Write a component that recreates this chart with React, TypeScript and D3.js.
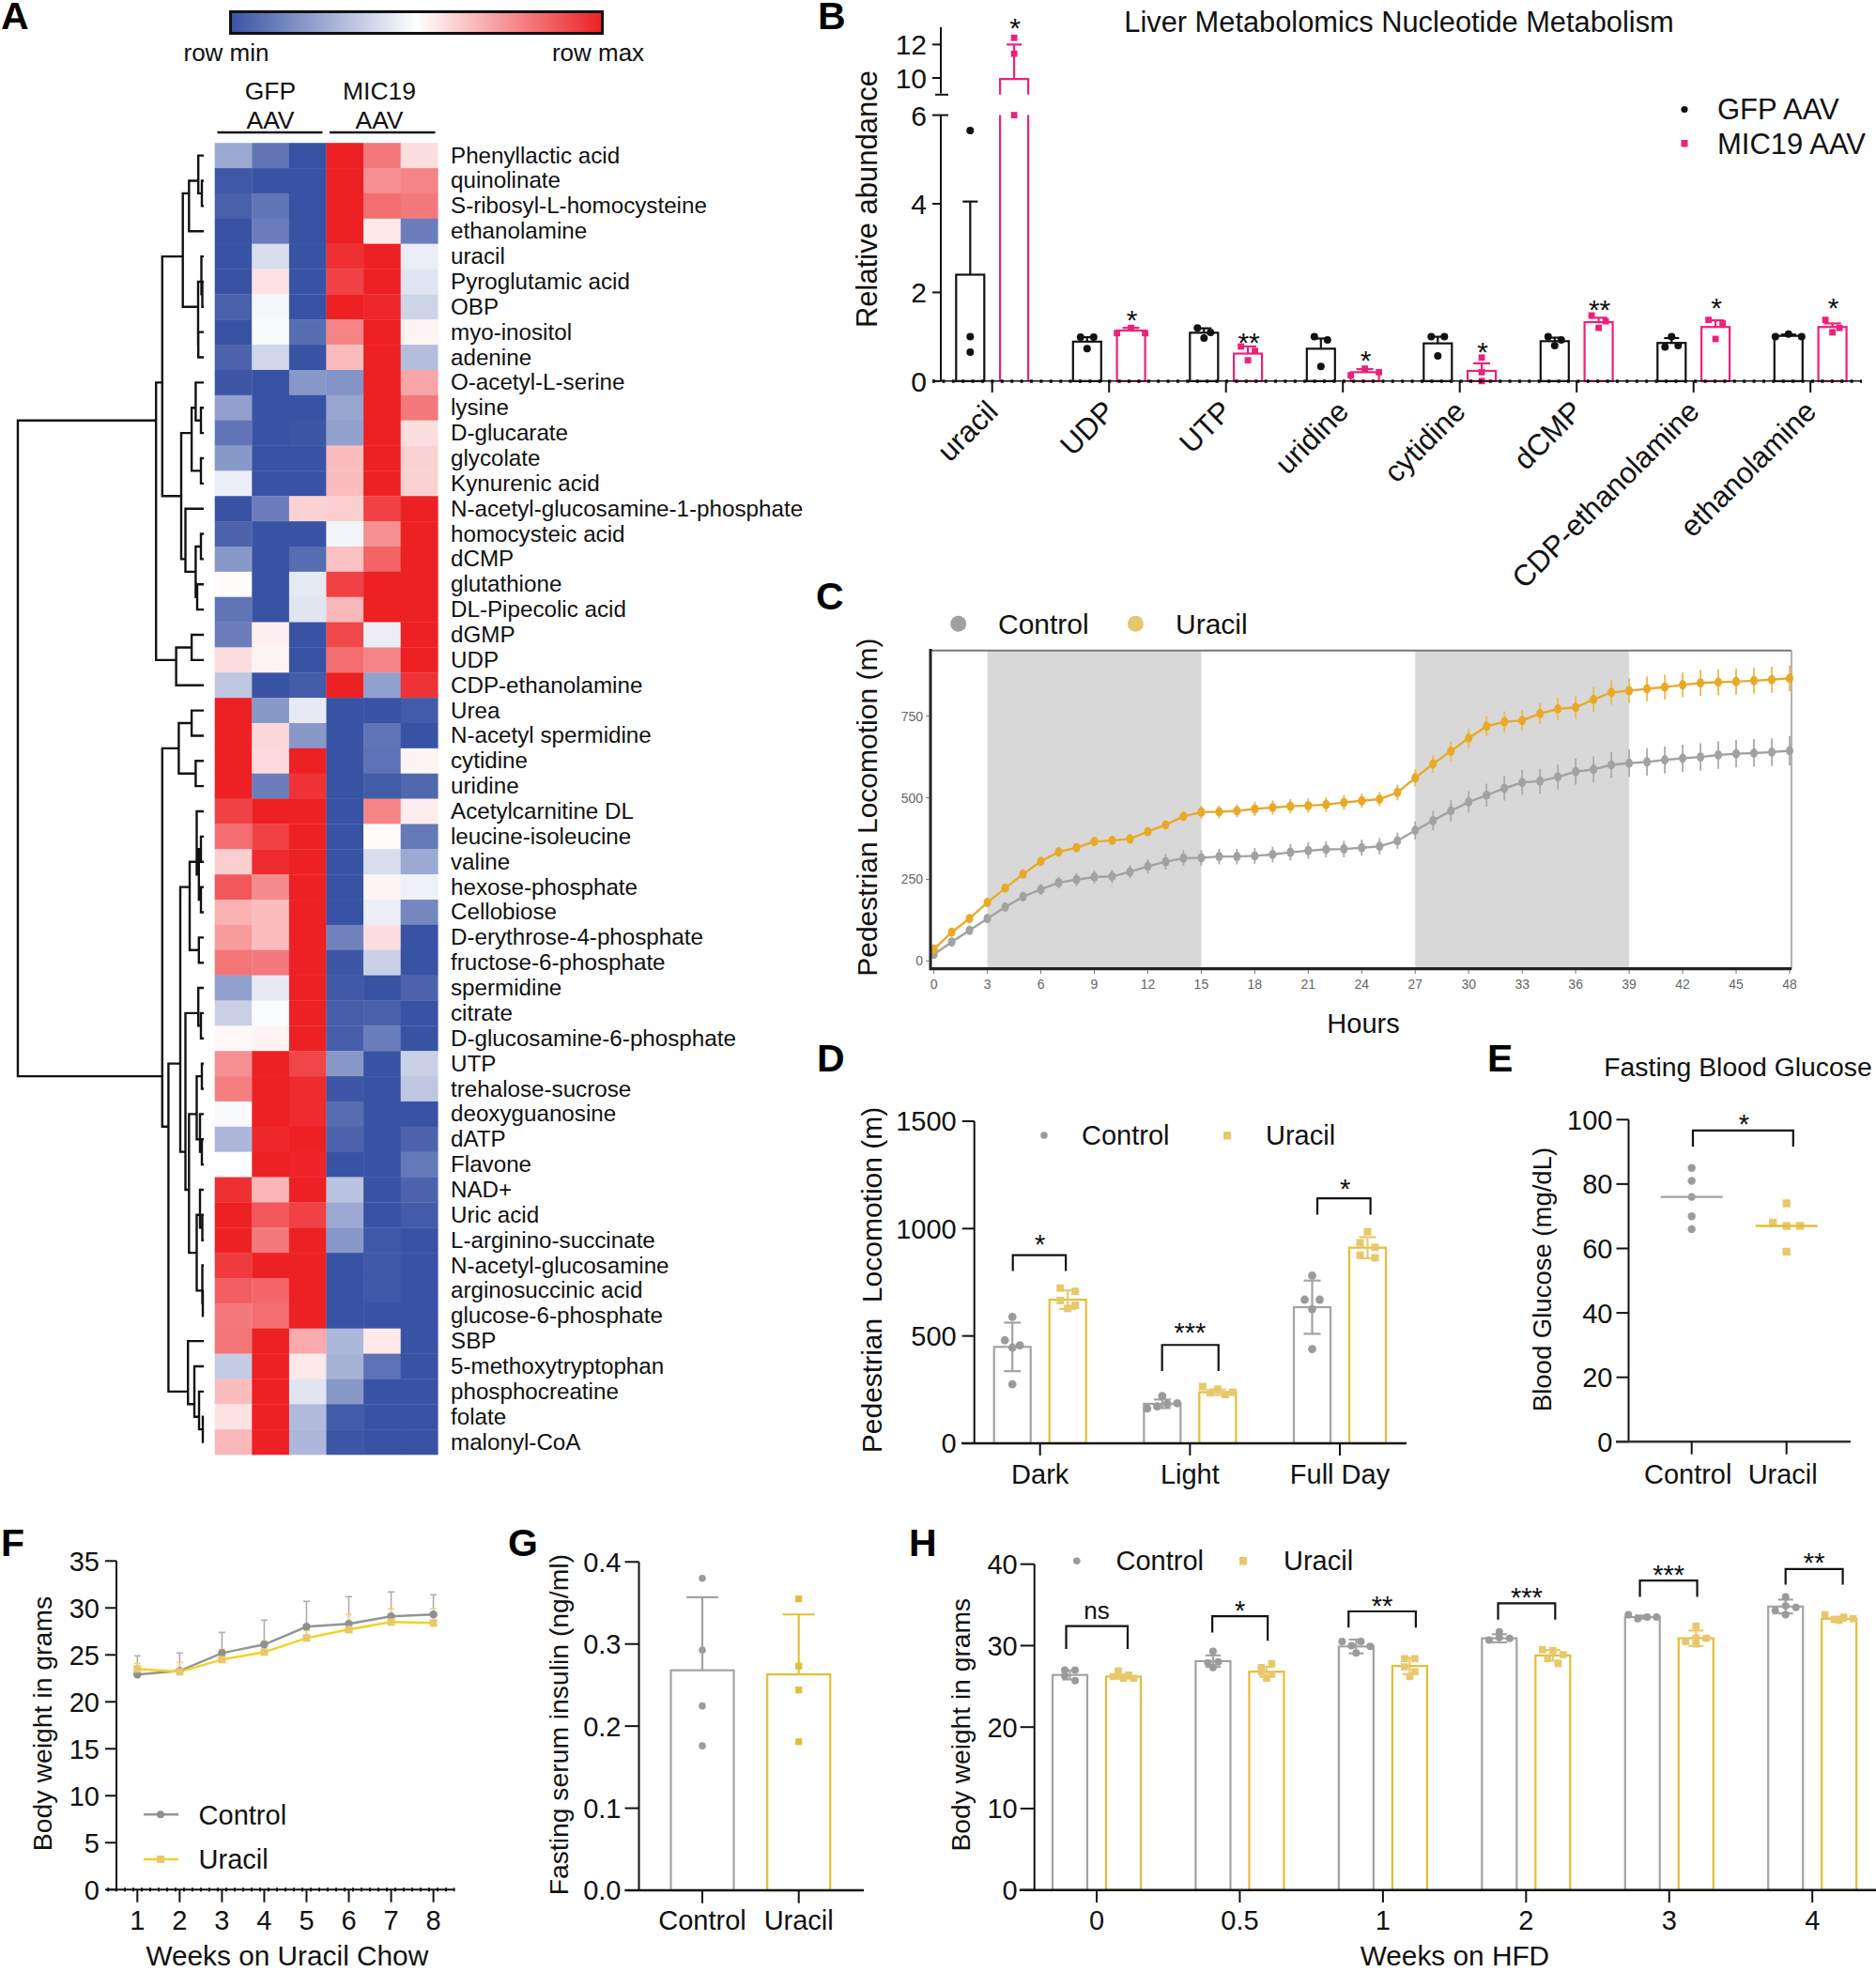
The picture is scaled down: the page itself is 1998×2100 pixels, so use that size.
import React from 'react';
import * as d3 from 'd3';

const FONT = '"Liberation Sans", Arial, sans-serif';

/* ---------- Panel A data ---------- */
const metabolites = ['Phenyllactic acid','quinolinate','S-ribosyl-L-homocysteine','ethanolamine','uracil','Pyroglutamic acid','OBP','myo-inositol','adenine','O-acetyl-L-serine','lysine','D-glucarate','glycolate','Kynurenic acid','N-acetyl-glucosamine-1-phosphate','homocysteic acid','dCMP','glutathione','DL-Pipecolic acid','dGMP','UDP','CDP-ethanolamine','Urea','N-acetyl spermidine','cytidine','uridine','Acetylcarnitine DL','leucine-isoleucine','valine','hexose-phosphate','Cellobiose','D-erythrose-4-phosphate','fructose-6-phosphate','spermidine','citrate','D-glucosamine-6-phosphate','UTP','trehalose-sucrose','deoxyguanosine','dATP','Flavone','NAD+','Uric acid','L-arginino-succinate','N-acetyl-glucosamine','arginosuccinic acid','glucose-6-phosphate','SBP','5-methoxytryptophan','phosphocreatine','folate','malonyl-CoA'];
const heatValues: number[][] = [
[-0.5,-0.8,-1,1,0.6,0.15],[-0.97,-1,-1,1,0.5,0.55],[-0.92,-0.8,-1,1,0.65,0.6],[-1,-0.75,-1,1,0.1,-0.75],
[-1,-0.2,-1,0.93,1,-0.1],[-1,0.13,-1,0.85,1,-0.15],[-0.92,-0.05,-1,1,0.97,-0.25],[-1,-0.03,-0.85,0.55,1,0.05],
[-0.9,-0.23,-1,0.3,1,-0.38],[-0.98,-1,-0.6,-0.62,1,0.4],[-0.55,-1,-1,-0.52,1,0.6],[-0.8,-1,-0.98,-0.55,1,0.15],
[-0.6,-1,-1,0.3,1,0.2],[-0.1,-1,-1,0.3,1,0.2],[-1,-0.75,0.2,0.22,0.85,1],[-0.9,-1,-1,-0.06,0.5,1],
[-0.6,-1,-0.85,0.28,0.7,1],[0.02,-1,-0.13,0.85,1,1],[-0.8,-1,-0.15,0.32,1,1],[-0.75,0.07,-1,0.82,-0.1,1],
[0.15,0.05,-1,0.65,0.55,1],[-0.33,-1,-0.95,1,-0.55,0.92],[1,-0.6,-0.12,-1,-1,-0.95],[1,0.18,-0.6,-1,-0.8,-1],
[1,0.16,1,-1,-0.82,0.05],[1,-0.75,0.92,-1,-0.95,-0.88],[0.85,1,1,-1,0.55,0.08],[0.65,0.85,1,-1,0.02,-0.78],
[0.22,0.95,1,-1,-0.2,-0.5],[0.75,0.52,1,-1,0.05,-0.08],[0.35,0.3,1,-1,-0.1,-0.7],[0.45,0.3,1,-0.72,0.15,-1],
[0.62,0.6,1,-0.98,-0.27,-1],[-0.55,-0.12,1,-0.96,-1,-0.9],[-0.27,-0.02,1,-0.93,-0.92,-1],[0.03,0.05,1,-0.93,-0.75,-1],
[0.5,1,0.83,-0.6,-1,-0.27],[0.58,1,0.95,-0.98,-1,-0.33],[-0.03,1,0.95,-0.85,-1,-1],[-0.42,0.97,1,-0.9,-1,-0.9],
[0,1,0.98,-1,-1,-0.78],[0.93,0.33,1,-0.35,-1,-0.9],[1,0.75,0.85,-0.5,-1,-0.95],[1,0.6,1,-0.6,-0.97,-1],
[0.88,1,1,-1,-0.97,-1],[0.72,0.68,1,-1,-0.97,-1],[0.6,0.65,1,-1,-1,-1],[0.62,1,0.38,-0.42,0.1,-1],
[-0.3,1,0.1,-0.45,-0.82,-1],[0.3,1,-0.15,-0.6,-1,-1],[0.13,1,-0.4,-0.95,-1,-1],[0.32,1,-0.42,-0.98,-1,-1]];
// merge tree: [height, child, child]; a bare number is a row index
const dendroTop: any = [50.8,
  [44.2,
    [22.3,
      [15.7,[5.8,0,[2,1,2]],3],
      [6,[2.5,4,[1.5,5,6]],[5.8,7,8]]],
    [24,
      [12.9,[8.6,9,[3,10,11]],[3,12,13]],
      [19.5,14,[8.6,[3,15,16],[7,17,18]]]]],
  [29.4,[12.9,19,20],21]];
const dendroBottom: any = [44.2,
  [26.6,[12.9,22,23],[8.6,24,25]],
  [37.6,
    [25,
      [15,[7.5,26,[5.2,[3,27,28],[3,29,30]]],[5.2,31,32]],
      [19.5,
        [5.8,33,[3,34,35]],
        [15.7,
          [7.5,[2,36,37],[4,38,[2,39,40]]],
          [7.5,[4,41,[1.5,42,43]],[1.5,44,[1,45,46]]]]]],
    [16.8,47,[10,48,[5,49,[1,50,51]]]]]];
const dendroRoot: any = [198, dendroTop, dendroBottom];

/* ---------- Panel B data ---------- */
const bCategories = ['uracil','UDP','UTP','uridine','cytidine','dCMP','CDP-ethanolamine','ethanolamine'];
const bGfpMean = [2.4,0.89,1.09,0.73,0.85,0.9,0.86,1.02];
const bGfpHi = [4.05,0.99,1.19,0.96,1.0,0.98,0.97,1.05];
const bGfpPts = [[5.65,1.0,0.65],[0.99,0.73,0.99],[0.97,1.2,1.1],[1.0,0.33,0.93],[1.0,0.57,1.0],[0.8,1.0,0.93],[0.77,1.0,0.8],[1.0,1.06,1.0]];
const bMicMean = [9.94,1.14,0.62,0.2,0.23,1.33,1.22,1.22];
const bMicHi = [12,1.2,0.78,0.27,0.4,1.43,1.37,1.3];
const bMicPts = [[12.4,11.45,6],[1.08,1.2,1.08],[0.78,0.47,0.68],[0.13,0.28,0.2],[0.53,0.2,0],[1.48,1.35,1.2],[1.38,0.95,1.3],[1.1,1.38,1.2]];
const bStars = ['*','*','**','*','*','**','*','*'];
const bStarVals = [13.45,1.53,1.02,0.61,0.81,1.76,1.79,1.79];
const bTicksLow = [0,2,4,6];
const bTicksHigh = [10,12];

/* ---------- Panel C data ---------- */
const cHours = d3.range(0, 49);
const cControl = [20,58,94,130,165,197,219,240,249,257,259,273,290,304,315,316,320,320,322,326,333,338,342,343,347,351,368,400,430,460,487,508,529,547,551,564,580,587,601,606,610,616,621,625,631,635,637,640,644];
const cControlErr = [3,5,7,9,12,15,17,18,20,20,20,20,22,24,24,24,24,24,24,24,25,25,25,25,25,25,25,28,30,33,33,35,38,38,38,38,40,40,40,42,42,42,42,42,42,42,42,42,45];
const cUracil = [36,88,130,179,223,266,305,334,347,366,369,374,396,417,443,456,457,460,466,470,474,476,479,486,491,496,516,561,604,643,683,719,733,737,758,772,777,801,823,828,834,839,846,852,854,856,859,862,866];
const cUracilErr = [3,5,6,8,8,9,9,9,10,10,10,10,10,12,14,20,20,20,22,22,22,22,22,22,22,22,24,26,28,30,30,30,32,32,33,35,36,38,38,38,38,38,38,40,40,40,40,40,40];
const cDark = [[3,15],[27,39]];
const cXTicks = d3.range(0, 49, 3);
const cYTicks = [0,250,500,750];

/* ---------- Panel D data ---------- */
const dCategories = ['Dark','Light','Full Day'];
const dControlMean = [449,184,634];
const dControlSd = [113,20,124];
const dControlPtGroups = [[589,480,446,456,275],[220,162,172,184,186],[781,669,625,669,439]];
const dUracilMean = [669,238,911];
const dUracilSd = [43,13,49];
const dUracilPtGroups = [[723,708,665,643,628],[264,252,238,235,227],[985,934,913,876,864]];
const dBrackets = [[876,803,803],[458,337,337],[1141,1065,1065]];
const dStars = ['*','***','*'];
const dTicks = [0,500,1000,1500];

/* ---------- Panel E data ---------- */
const eCategories = ['Control','Uracil'];
const eControlPts = [85,81,76,70,66];
const eUracilPts = [74,68,67,67,59];
const eMeans = [76,67];
const eTicks = [0,20,40,60,80,100];

/* ---------- Panel F data ---------- */
const fWeeks = [1,2,3,4,5,6,7,8];
const fControl = [22.9,23.3,25.2,26.1,28,28.3,29.1,29.3];
const fControlHi = [24.9,25.2,27.4,28.7,30.7,31.2,31.7,31.4];
const fUracil = [23.5,23.2,24.5,25.3,26.8,27.7,28.5,28.4];
const fUracilHi = [24.1,24.2,25.6,26.5,27.6,29.3,29.9,29.9];
const fTicks = [0,5,10,15,20,25,30,35];

/* ---------- Panel G data ---------- */
const gCategories = ['Control','Uracil'];
const gMeans = [0.268,0.263];
const gHi = [0.357,0.336];
const gPts = [[0.38,0.2925,0.2246,0.176],[0.355,0.273,0.244,0.181]];
const gTicks = [0,0.1,0.2,0.3,0.4];

/* ---------- Panel H data ---------- */
const hWeeks = ['0','0.5','1','2','3','4'];
const hControlMean = [26.4,28.1,29.9,30.9,33.5,34.8];
const hControlSd = [0.55,0.7,0.85,0.5,0.2,0.85];
const hControlPts = [[27,27,26.3,25.7],[29.3,27.3,27.9,28],[30.5,30,30.5,29.1,29.9],[31.7,30.7,31,30.9],[33.8,33.3,33.5,33.5],[36,34.3,34.9,34.7,33.8]];
const hUracilMean = [26.2,26.8,27.5,28.8,30.9,33.3];
const hUracilSd = [0.25,0.6,1.0,0.65,0.95,0.25];
const hUracilPts = [[26.9,26.4,26.2,26,26],[27.3,27.8,26.8,26.5,26],[28.4,28.4,27.4,26.8,26.2],[29.5,29.4,28.9,28.4,27.8],[32.4,30.5,30.9,30.9,30.2],[33.8,33.2,33.5,33.1,33.3]];
const hBrackets = [[32.4,29.6,29.6],[33.6,31.6,30.6],[34.2,32.2,32.2],[35.2,33.2,33.2],[38,36,36],[39.4,37.5,37.5]];
const hLabels = ['ns','*','**','***','***','**'];
const hTicks = [0,10,20,30,40];

/* ---------- colours ---------- */
const GRAY = '#a3a3a3', GRAYPT = '#9b9b9b', GOLD = '#e5bd35', GOLDPT = '#e8c86c', PINK = '#ee2079';

/* ---------- helpers ---------- */
function T({ x, y, s = 29, a = 'start', w, rot, fill = '#111', children }: any) {
  const transform = rot !== undefined ? `translate(${x},${y}) rotate(${rot})` : undefined;
  return <text x={rot !== undefined ? 0 : x} y={rot !== undefined ? 0 : y} transform={transform} fontFamily={FONT} fontSize={s} textAnchor={a} fill={fill} fontWeight={w}>{children}</text>;
}
const Star = ({ x, cy, s = 30, children }: any) => <T x={x} y={cy + s * 0.57} s={s} a="middle">{children}</T>;
const Letter = ({ x, y, children }: any) => <T x={x} y={y} s={41} w="bold" fill="#000">{children}</T>;

// lay out tied values side by side; inside a tie, array order runs left to right
function swarm(vals: number[], y: (v: number) => number, step: number, gap: number, span: number) {
  const idx = vals.map((_, i) => i).sort((a, b) => y(vals[a]) - y(vals[b]));
  const off = new Array(vals.length).fill(0);
  let i = 0;
  while (i < idx.length) {
    let j = i;
    while (j + 1 < idx.length && y(vals[idx[j + 1]]) - y(vals[idx[i]]) < gap) j++;
    const group = idx.slice(i, j + 1).sort((a, b) => a - b);
    const st = group.length > 1 ? Math.min(step, span / (group.length - 1)) : 0;
    group.forEach((g, k) => { off[g] = (k - (group.length - 1) / 2) * st; });
    i = j + 1;
  }
  return off;
}
function Pts({ vals, cx, y, step, gap, color, shape, r, span = 32 }: any) {
  const off = swarm(vals, y, step, gap, span);
  return <g>{vals.map((v: number, i: number) => shape === 'c'
    ? <circle key={i} cx={cx + off[i]} cy={y(v)} r={r} fill={color} />
    : <rect key={i} x={cx + off[i] - r} y={y(v) - r} width={2 * r} height={2 * r} fill={color} />)}</g>;
}
function ErrorBar({ cx, from, to, y, color, cap, capLo, sw = 2 }: any) {
  return <g stroke={color} strokeWidth={sw}>
    <line x1={cx} x2={cx} y1={y(from)} y2={y(to)} />
    <line x1={cx - cap} x2={cx + cap} y1={y(to)} y2={y(to)} />
    {capLo && <line x1={cx - cap} x2={cx + cap} y1={y(from)} y2={y(from)} />}
  </g>;
}
function Bar({ cx, w, mean, hi, lo, y, color, sw = 2.2, cap = 10, errColor }: any) {
  return <g>
    <rect x={cx - w / 2} y={y(mean)} width={w} height={y(0) - y(mean)} fill="#fff" stroke={color} strokeWidth={sw} />
    <ErrorBar cx={cx} from={lo === undefined ? mean : lo} to={hi} y={y} color={errColor || color} cap={cap} capLo={lo !== undefined} sw={sw} />
  </g>;
}
function YAxis({ y, ticks, x, fmt = (d: any) => String(d), s = 29, len = 13, gap = 6 }: any) {
  const [a, b] = d3.extent(ticks.map((t: number) => y(t))) as [number, number];
  return <g>
    <line x1={x} x2={x} y1={a} y2={b} stroke="#111" strokeWidth={2} />
    {ticks.map((t: number) => <g key={t}>
      <line x1={x - len} x2={x} y1={y(t)} y2={y(t)} stroke="#111" strokeWidth={2} />
      <T x={x - len - gap} y={y(t) + s * 0.36} s={s} a="end">{fmt(t)}</T>
    </g>)}
  </g>;
}
function Bracket({ x1, x2, top, l1, l2, y }: any) {
  return <path d={`M${x1},${y(l1)}V${y(top)}H${x2}V${y(l2)}`} fill="none" stroke="#111" strokeWidth={2.2} />;
}

/* ---------- Panel A ---------- */
function PanelA() {
  const x = d3.scaleBand<number>().domain(d3.range(6)).range([228.7, 466.3]);
  const y = d3.scaleBand<number>().domain(d3.range(metabolites.length)).range([152.2, 1549]);
  const color = d3.scaleLinear<string>().domain([-1, 0, 1]).range(['#3953a4', '#ffffff', '#ed2024']);
  const dx = d3.scaleLinear().domain([0, 198]).range([217, 19]);
  const root = d3.hierarchy(dendroRoot, (d: any) => (Array.isArray(d) ? d.slice(1) : null));
  const nodeY = (n: any) => d3.mean(n.leaves(), (l: any) => y(l.data)! + y.bandwidth() / 2) as number;
  const nodeH = (n: any) => (Array.isArray(n.data) ? n.data[0] : 0);
  const paths: string[] = [];
  root.each((n: any) => {
    if (!n.children) return;
    const [a, b] = n.children;
    paths.push(`M${dx(nodeH(a))},${nodeY(a)}H${dx(nodeH(n))}V${nodeY(b)}H${dx(nodeH(b))}`);
  });
  return <g>
    <defs>
      <linearGradient id="rowgrad"><stop offset="0" stopColor="#3953a4" /><stop offset="0.5" stopColor="#ffffff" /><stop offset="1" stopColor="#ed2024" /></linearGradient>
    </defs>
    <rect x={245.5} y={12.5} width={396} height={23} fill="url(#rowgrad)" stroke="#111" strokeWidth={3} />
    <T x={241} y={65} s={26} a="middle">row min</T>
    <T x={637} y={65} s={26} a="middle">row max</T>
    <T x={288} y={106} s={26.5} a="middle">GFP</T>
    <T x={288} y={137} s={26.5} a="middle">AAV</T>
    <T x={404} y={106} s={26.5} a="middle">MIC19</T>
    <T x={404} y={137} s={26.5} a="middle">AAV</T>
    <line x1={231.5} x2={343.4} y1={141} y2={141} stroke="#111" strokeWidth={2.5} />
    <line x1={351} x2={463.5} y1={141} y2={141} stroke="#111" strokeWidth={2.5} />
    {heatValues.map((row, i) => row.map((v, j) =>
      <rect key={`${i}-${j}`} x={x(j)} y={y(i)} width={x.bandwidth() + 0.3} height={y.bandwidth() + 0.3} fill={color(v)} />))}
    {metabolites.map((m, i) => <T key={m} x={480} y={y(i)! + y.bandwidth() / 2 + 8} s={24.2}>{m}</T>)}
    <path d={paths.join('')} fill="none" stroke="#111" strokeWidth={2.4} />
  </g>;
}

/* ---------- Panel B ---------- */
function PanelB() {
  const yLow = d3.scaleLinear().domain([0, 6]).range([405.8, 122.6]);
  const yHigh = d3.scaleLinear().domain([10, 12]).range([83, 47.4]);
  const y = (v: number) => (v <= 6 ? yLow(v) : yHigh(v));
  const x = d3.scalePoint<string>().domain(bCategories).range([1056.7, 1056.7 + 124.5 * 7]);
  const off = 23.4, w = 30;
  return <g>
    <T x={1490} y={34} s={30.8} a="middle">Liver Metabolomics Nucleotide Metabolism</T>
    <T x={934} y={212} s={31} a="middle" rot={-90}>Relative abundance</T>
    {bCategories.map((c, i) => {
      const cx = x(c)!;
      const ph = i === 0 ? null : (
        <Bar cx={cx + off} w={w} mean={bMicMean[i]} hi={bMicHi[i]} y={y} color={PINK} cap={9} />);
      return <g key={c}>
        <Bar cx={cx - off} w={w} mean={bGfpMean[i]} hi={bGfpHi[i]} y={y} color="#111" cap={8} />
        {ph}
        {i === 0 && <g fill="none" stroke={PINK} strokeWidth={2.2}>
          <path d={`M${cx + off - w / 2},${yLow(0)}V${yLow(6)}M${cx + off + w / 2},${yLow(0)}V${yLow(6)}`} />
          <path d={`M${cx + off - w / 2},${yHigh(9)}V${yHigh(bMicMean[0])}H${cx + off + w / 2}V${yHigh(9)}`} />
          <ErrorBar cx={cx + off} from={bMicMean[0]} to={bMicHi[0]} y={y} color={PINK} cap={8} sw={2.2} />
        </g>}
        <Pts vals={bGfpPts[i]} cx={cx - off} y={y} step={14} gap={9} color="#111" shape="c" r={4} />
        <Pts vals={bMicPts[i]} cx={cx + off} y={y} step={15} gap={9} color={PINK} shape="s" r={3.4} />
        <Star x={cx + off + 1} cy={i === 0 ? 23 : y(bStarVals[i])} s={30}>{bStars[i]}</Star>
        <line x1={cx} x2={cx} y1={405.8} y2={418} stroke="#111" strokeWidth={2} />
        <T x={cx + 8} y={440} s={31.5} a="end" rot={-45}>{c}</T>
      </g>;
    })}
    <line x1={1002} x2={1002} y1={122.6} y2={405.8} stroke="#111" strokeWidth={2} />
    <line x1={1002} x2={1002} y1={29} y2={99.6} stroke="#111" strokeWidth={2} />
    {bTicksLow.map(t => <g key={t}>
      <line x1={993} x2={t === 6 ? 1010 : 1002} y1={yLow(t)} y2={yLow(t)} stroke="#111" strokeWidth={2} />
      <T x={987} y={yLow(t) + 11} s={30} a="end">{t}</T>
    </g>)}
    {bTicksHigh.map(t => <g key={t}>
      <line x1={993} x2={1002} y1={yHigh(t)} y2={yHigh(t)} stroke="#111" strokeWidth={2} />
      <T x={987} y={yHigh(t) + 11} s={30} a="end">{t}</T>
    </g>)}
    <line x1={996} x2={1010} y1={yHigh(9)} y2={yHigh(9)} stroke="#111" strokeWidth={2} />
    <line x1={993} x2={1983} y1={405.8} y2={405.8} stroke="#111" strokeWidth={1.5} />
    <line x1={993} x2={1983} y1={406} y2={406} stroke="#111" strokeWidth={3.5} strokeDasharray="3 7.4" />
    <circle cx={1794} cy={116.5} r={3.6} fill="#111" />
    <rect x={1790.5} y={149} width={7} height={7.5} fill={PINK} />
    <T x={1829} y={127} s={31}>GFP AAV</T>
    <T x={1829} y={163.5} s={31}>MIC19 AAV</T>
  </g>;
}

/* ---------- Panel C ---------- */
function PanelC() {
  const x = d3.scaleLinear().domain([0, 48]).range([994.6, 1906]);
  const y = d3.scaleLinear().domain([0, 750]).range([1023.3, 762.7]);
  const line = d3.line<number>().x((_, i) => x(cHours[i])).y(d => y(d));
  const series = [
    { v: cControl, e: cControlErr, c: '#a2a2a2', ec: '#aaaaaa' },
    { v: cUracil, e: cUracilErr, c: '#e9a928', ec: '#ecb94e' }];
  return <g>
    <ellipse cx={1020.7} cy={664.3} rx={8.5} ry={8.5} fill="#a0a0a0" />
    <ellipse cx={1209.4} cy={664.3} rx={8.5} ry={8.5} fill="#e6c56c" />
    <T x={1063} y={675} s={30}>Control</T>
    <T x={1252} y={675} s={30}>Uracil</T>
    <rect x={991} y={693} width={917} height={339} fill="#fff" />
    {cDark.map(d => <rect key={d[0]} x={x(d[0])} y={693} width={x(d[1]) - x(d[0])} height={339} fill="#d8d8d8" />)}
    <line x1={991} x2={1908} y1={692.7} y2={692.7} stroke="#777" strokeWidth={2} />
    <line x1={1908} x2={1908} y1={693} y2={1032} stroke="#999" strokeWidth={1.5} />
    {series.map((s, k) => <g key={k}>
      {s.v.map((v, i) => <line key={i} x1={x(cHours[i])} x2={x(cHours[i])} y1={y(v - s.e[i])} y2={y(v + s.e[i])} stroke={s.ec} strokeWidth={1.8} />)}
      <path d={line(s.v)!} fill="none" stroke={s.c} strokeWidth={2.4} />
      {s.v.map((v, i) => <ellipse key={i} cx={x(cHours[i])} cy={y(v)} rx={4} ry={5} fill={s.c} />)}
    </g>)}
    <line x1={991} x2={991} y1={691} y2={1033} stroke="#222" strokeWidth={3} />
    <line x1={990} x2={1908} y1={1031.7} y2={1031.7} stroke="#222" strokeWidth={3.2} />
    {cXTicks.map(t => <g key={t}>
      <line x1={x(t)} x2={x(t)} y1={1033} y2={1037} stroke="#777" strokeWidth={1} />
      <T x={x(t)} y={1053} s={14} a="middle" fill="#666">{t}</T>
    </g>)}
    {cYTicks.map(t => <g key={t}>
      <line x1={986} x2={990} y1={y(t)} y2={y(t)} stroke="#777" strokeWidth={1} />
      <T x={983} y={y(t) + 5} s={14} a="end" fill="#666">{t}</T>
    </g>)}
    <T x={934} y={859.7} s={30} a="middle" rot={-90}>Pedestrian Locomotion (m)</T>
    <T x={1452} y={1100} s={29} a="middle">Hours</T>
  </g>;
}

/* ---------- Panel D ---------- */
function PanelD() {
  const y = d3.scaleLinear().domain([0, 1500]).range([1537, 1194]);
  const x = d3.scalePoint<string>().domain(dCategories).range([1107.7, 1427]);
  const w = 39, off = 29.5;
  const brL = [-29, -29.7, -24], brR = [27.4, 30.4, 32.6];
  const starUp = [18.7, 20, 17];
  return <g>
    <circle cx={1112} cy={1209} r={3.8} fill={GRAYPT} />
    <rect x={1303} y={1205} width={8} height={8.5} fill={GOLDPT} />
    <T x={1152} y={1219} s={29}>Control</T>
    <T x={1348} y={1219} s={29}>Uracil</T>
    <T x={939} y={1363} s={30} a="middle" rot={-90}>{'Pedestrian\u00a0 Locomotion (m)'}</T>
    {dCategories.map((c, i) => {
      const cx = x(c)!;
      const [top, l1, l2] = dBrackets[i];
      return <g key={c}>
        <Bar cx={cx - off} w={w} mean={dControlMean[i]} hi={dControlMean[i] + dControlSd[i]} lo={dControlMean[i] - dControlSd[i]} y={y} color={GRAY} cap={9} />
        <Bar cx={cx + off} w={w} mean={dUracilMean[i]} hi={dUracilMean[i] + dUracilSd[i]} lo={dUracilMean[i] - dUracilSd[i]} y={y} color={GOLD} errColor={GOLDPT} cap={9} />
        <Pts vals={dControlPtGroups[i]} cx={cx - off} y={y} step={16} gap={6} color={GRAYPT} shape="c" r={4.4} />
        <Pts vals={dUracilPtGroups[i]} cx={cx + off} y={y} step={16} gap={6} color={GOLDPT} shape="s" r={4} />
        <Bracket x1={cx + brL[i]} x2={cx + brR[i]} top={top} l1={l1} l2={l2} y={y} />
        <Star x={cx + (i === 2 ? 5.6 : 0)} cy={y(top) - starUp[i]} s={29}>{dStars[i]}</Star>
        <line x1={cx} x2={cx} y1={1537} y2={1550} stroke="#111" strokeWidth={2} />
        <T x={cx} y={1580} s={29} a="middle">{c}</T>
      </g>;
    })}
    <YAxis y={y} ticks={dTicks} x={1037.7} />
    <line x1={1024} x2={1498} y1={1537} y2={1537} stroke="#111" strokeWidth={2.4} />
  </g>;
}

/* ---------- Panel E ---------- */
function PanelE() {
  const y = d3.scaleLinear().domain([0, 100]).range([1535.3, 1192.3]);
  const x = d3.scalePoint<string>().domain(eCategories).range([1801.7, 1902.7]);
  const half = 33;
  return <g>
    <T x={1851} y={1146} s={28.4} a="middle">Fasting Blood Glucose</T>
    <T x={1652} y={1362.5} s={27.5} a="middle" rot={-90}>Blood Glucose (mg/dL)</T>
    <YAxis y={y} ticks={eTicks} x={1734.5} len={13} gap={4} />
    <line x1={1721} x2={1971} y1={1535.3} y2={1535.3} stroke="#333" strokeWidth={2.4} />
    {eCategories.map((c, i) => {
      const cx = x(c)!;
      return <g key={c}>
        <line x1={cx} x2={cx} y1={1535.3} y2={1548.7} stroke="#111" strokeWidth={2} />
        <T x={cx - 4} y={1580} s={29} a="middle">{c}</T>
        <Pts vals={i === 0 ? eControlPts : eUracilPts} cx={cx} y={y} step={14.5} gap={8} color={i === 0 ? GRAYPT : GOLDPT} shape={i === 0 ? 'c' : 's'} r={4.2} />
        <line x1={cx - half} x2={cx + half} y1={y(eMeans[i])} y2={y(eMeans[i])} stroke={i === 0 ? GRAY : GOLD} strokeWidth={2.4} />
      </g>;
    })}
    <Bracket x1={1803} x2={1909.8} top={96.6} l1={91.6} l2={91.6} y={y} />
    <Star x={1857.5} cy={1190} s={29}>*</Star>
  </g>;
}

/* ---------- Panel F ---------- */
function PanelF() {
  const y = d3.scaleLinear().domain([0, 35]).range([2012.3, 1662.3]);
  const x = d3.scaleLinear().domain([1, 8]).range([146.3, 461.6]);
  const line = d3.line<number>().x((_, i) => x(fWeeks[i])).y(d => y(d));
  return <g>
    <T x={55} y={1835.5} s={28.4} a="middle" rot={-90}>Body weight in grams</T>
    {fWeeks.map((w, i) => <g key={w}>
      <ErrorBar cx={x(w)} from={fControl[i]} to={fControlHi[i]} y={y} color="#adadad" cap={3.5} sw={1.6} />
      <ErrorBar cx={x(w)} from={fUracil[i]} to={fUracilHi[i]} y={y} color="#ecd389" cap={3.5} sw={1.6} />
    </g>)}
    <path d={line(fControl)!} fill="none" stroke="#949494" strokeWidth={2.4} />
    <path d={line(fUracil)!} fill="none" stroke="#f2d21f" strokeWidth={2.4} />
    {fWeeks.map((w, i) => <g key={w}>
      <circle cx={x(w)} cy={y(fControl[i])} r={4.2} fill="#8f8f8f" />
      <rect x={x(w) - 4} y={y(fUracil[i]) - 4} width={8} height={8} fill={GOLDPT} />
    </g>)}
    <YAxis y={y} ticks={fTicks} x={124} len={12} gap={6} />
    <line x1={114} x2={484.4} y1={2012.3} y2={2012.3} stroke="#111" strokeWidth={2} />
    <line x1={114} x2={484.4} y1={2012.3} y2={2012.3} stroke="#111" strokeWidth={4} strokeDasharray="2 7" />
    {fWeeks.map(w => <g key={w}>
      <line x1={x(w)} x2={x(w)} y1={2012.3} y2={2025.7} stroke="#111" strokeWidth={2} />
      <T x={x(w)} y={2055} s={29} a="middle">{w}</T>
    </g>)}
    <T x={305.8} y={2093} s={29.8} a="middle">Weeks on Uracil Chow</T>
    <line x1={153} x2={190} y1={1932.3} y2={1932.3} stroke="#949494" strokeWidth={2.4} />
    <circle cx={171} cy={1932.3} r={4} fill="#8f8f8f" />
    <line x1={153} x2={190} y1={1980} y2={1980} stroke="#f2d21f" strokeWidth={2.4} />
    <rect x={167} y={1976} width={8} height={8} fill={GOLDPT} />
    <T x={211.6} y={1943} s={29}>Control</T>
    <T x={211.6} y={1990} s={29}>Uracil</T>
  </g>;
}

/* ---------- Panel G ---------- */
function PanelG() {
  const y = d3.scaleLinear().domain([0, 0.4]).range([2013, 1663.3]);
  const x = d3.scalePoint<string>().domain(gCategories).range([748, 850.7]);
  return <g>
    <T x={605} y={1836.7} s={28.3} a="middle" rot={-90}>Fasting serum insulin (ng/ml)</T>
    {gCategories.map((c, i) => {
      const cx = x(c)!;
      const col = i === 0 ? GRAY : GOLD;
      return <g key={c}>
        <Bar cx={cx} w={67} mean={gMeans[i]} hi={gHi[i]} y={y} color={col} cap={17} />
        <Pts vals={gPts[i]} cx={cx} y={y} step={10} gap={4} color={i === 0 ? GRAYPT : '#e3bd3c'} shape={i === 0 ? 'c' : 's'} r={i === 0 ? 3.8 : 3.6} />
        <line x1={cx} x2={cx} y1={2013} y2={2026.7} stroke="#111" strokeWidth={2} />
        <T x={cx} y={2055} s={29} a="middle">{c}</T>
      </g>;
    })}
    <YAxis y={y} ticks={gTicks} x={680.5} len={15} gap={4} fmt={(d: number) => d3.format('.1f')(d)} />
    <line x1={665.5} x2={920} y1={2013} y2={2013} stroke="#111" strokeWidth={2.4} />
  </g>;
}

/* ---------- Panel H ---------- */
function PanelH() {
  const y = d3.scaleLinear().domain([0, 40]).range([2012.7, 1665.7]);
  const x = d3.scalePoint<string>().domain(hWeeks).range([1168, 1930.2]);
  const w = 37, off = 28.5;
  const brL = [-32.5, -29.3, -36.6, -29.8, -31.2, -28.5], brR = [33, 29.7, 35, 31, 29.8, 32.4];
  return <g>
    <circle cx={1146.8} cy={1662.3} r={3.8} fill={GRAYPT} />
    <rect x={1320} y={1658} width={8} height={8.5} fill={GOLDPT} />
    <T x={1188.5} y={1672} s={29}>Control</T>
    <T x={1367} y={1672} s={29}>Uracil</T>
    <T x={1033} y={1836.7} s={28.2} a="middle" rot={-90}>Body weight in grams</T>
    {hWeeks.map((c, i) => {
      const cx = x(c)!;
      const [top, l1, l2] = hBrackets[i];
      return <g key={c}>
        <Bar cx={cx - off} w={w} mean={hControlMean[i]} hi={hControlMean[i] + hControlSd[i]} lo={hControlMean[i] - hControlSd[i]} y={y} color={GRAY} cap={8} />
        <Bar cx={cx + off} w={w} mean={hUracilMean[i]} hi={hUracilMean[i] + hUracilSd[i]} lo={hUracilMean[i] - hUracilSd[i]} y={y} color={GOLD} errColor={GOLDPT} cap={8} />
        <Pts vals={hControlPts[i]} cx={cx - off} y={y} step={11} gap={6} color={GRAYPT} shape="c" r={4} span={30} />
        <Pts vals={hUracilPts[i]} cx={cx + off} y={y} step={11} gap={6} color={GOLDPT} shape="s" r={3.8} span={30} />
        <Bracket x1={cx + brL[i]} x2={cx + brR[i]} top={top} l1={l1} l2={l2} y={y} />
        {hLabels[i] === 'ns'
          ? <T x={cx} y={y(top) - 8} s={26} a="middle">ns</T>
          : <Star x={cx + (brL[i] + brR[i]) / 2} cy={y(top) - 13} s={29}>{hLabels[i]}</Star>}
        <line x1={cx} x2={cx} y1={2012.7} y2={2026} stroke="#111" strokeWidth={2} />
        <T x={cx} y={2055} s={29} a="middle">{c}</T>
      </g>;
    })}
    <YAxis y={y} ticks={hTicks} x={1101.7} len={15} gap={3} />
    <line x1={1085.8} x2={1998} y1={2012.7} y2={2012.7} stroke="#111" strokeWidth={2.4} />
    <T x={1549.4} y={2093} s={29.8} a="middle">Weeks on HFD</T>
  </g>;
}

export default function App() {
  return (
    <svg width={1998} height={2100} viewBox="0 0 1998 2100" style={{ position: 'absolute', left: 0, top: 0, background: '#fff' }}>
      <PanelA /><PanelB /><PanelC /><PanelD /><PanelE /><PanelF /><PanelG /><PanelH />
      <Letter x={1} y={31}>A</Letter>
      <Letter x={871} y={31}>B</Letter>
      <Letter x={869} y={649}>C</Letter>
      <Letter x={870} y={1141}>D</Letter>
      <Letter x={1584} y={1141}>E</Letter>
      <Letter x={1} y={1657}>F</Letter>
      <Letter x={541} y={1657}>G</Letter>
      <Letter x={968} y={1657}>H</Letter>
    </svg>
  );
}
